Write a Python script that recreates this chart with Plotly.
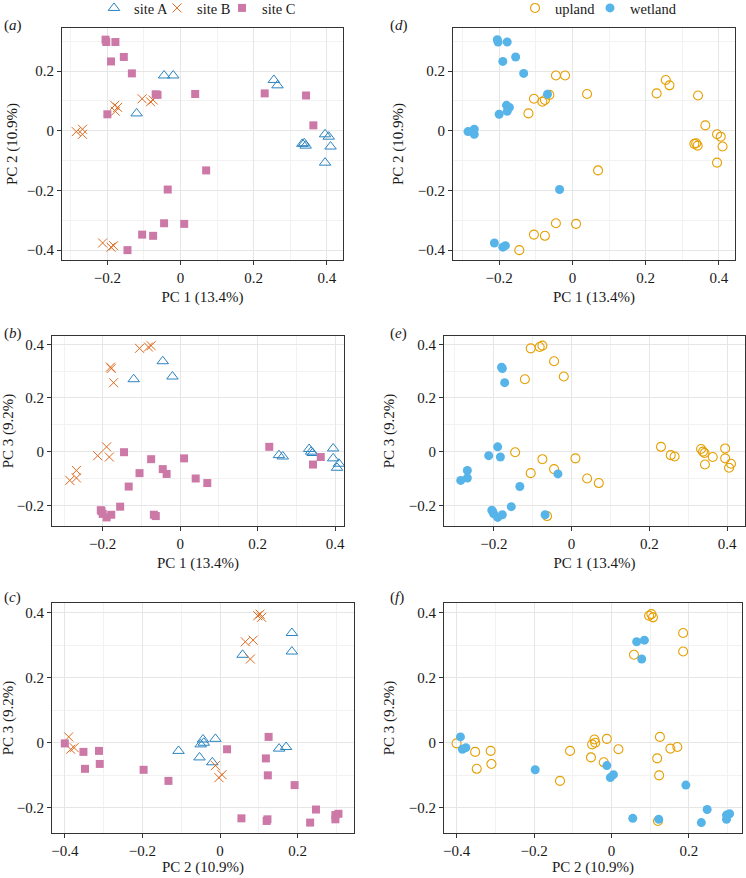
import plotly.graph_objects as go

# ---- data ----
pc1 = [-0.045, -0.020, -0.120, 0.255, 0.265, 0.333, 0.338, 0.342, 0.395, 0.405, 0.410, 0.395,
       -0.285, -0.268, -0.268, -0.180, -0.178, -0.172, -0.105, -0.082, -0.075, -0.213, -0.190, -0.183,
       -0.205, -0.203, -0.178, -0.190, -0.155, -0.133, -0.068, -0.063, 0.040, -0.200,
       0.230, 0.343, 0.363, 0.070, -0.035, -0.045, 0.010, -0.105, -0.075, -0.145]
pc2 = [0.185, 0.185, 0.058, 0.170, 0.152, -0.044, -0.042, -0.050, -0.012, -0.020, -0.053, -0.107,
       -0.003, 0.005, -0.012, 0.085, 0.065, 0.078, 0.107, 0.097, 0.103, -0.376, -0.390, -0.385,
       0.305, 0.297, 0.297, 0.232, 0.247, 0.192, 0.122, 0.120, 0.123, 0.055,
       0.125, 0.118, 0.018, -0.133, -0.197, -0.310, -0.312, -0.348, -0.352, -0.400]
pc3 = [0.337, 0.280, 0.270, -0.013, -0.018, 0.010, 0.000, -0.005, 0.012, -0.060, -0.045, -0.025,
       -0.107, -0.098, -0.070, 0.315, 0.310, 0.257, 0.385, 0.390, 0.395, -0.015, 0.018, -0.020,
       -0.218, -0.222, -0.235, -0.245, -0.205, -0.130, -0.235, -0.240, -0.100, -0.232,
       0.018, -0.048, -0.020, -0.117, -0.083, -0.065, -0.025, -0.080, -0.028, -0.002]
site = ["site A"] * 12 + ["site B"] * 12 + ["site C"] * 20
habitat = (["upland"] * 12 +
           ["wetland"] * 6 + ["upland"] * 3 + ["wetland"] * 3 +
           ["wetland"] * 7 + ["upland"] * 2 + ["wetland"] + ["upland"] * 4 + ["wetland"] + ["upland"] * 5)

site_levels = ["site A", "site B", "site C"]
hab_levels = ["upland", "wetland"]
axis_titles = {"pc1": "PC 1 (13.4%)", "pc2": "PC 2 (10.9%)", "pc3": "PC 3 (9.2%)"}

# ---- styles ----
FONT = "Liberation Serif"
W, H = 746, 878
site_style = {
    "site A": dict(symbol="triangle-up-open", color="#2b83c0", size=10, line=dict(width=1, color="#2b83c0")),
    "site B": dict(symbol="x-thin-open", color="#DD6A1F", size=9, line=dict(width=1.0, color="#DD6A1F")),
    "site C": dict(symbol="square", color="#CC79A7", size=8, line=dict(width=0)),
}
hab_style = {
    "upland": dict(symbol="circle-open", color="#E69F00", size=9, line=dict(width=1.1, color="#E69F00")),
    "wetland": dict(symbol="circle", color="#56B4E9", size=9, line=dict(width=0)),
}
# one legend box per entry: (legend id, left x in px)
legend_slots = {"site A": ("legend", 94), "site B": ("legend2", 157), "site C": ("legend3", 222),
                "upland": ("legend4", 515), "wetland": ("legend5", 590)}
cols = {"pc1": pc1, "pc2": pc2, "pc3": pc3}

# panel: label, x var, y var, colouring, pixel box (l, r, t, b), x range, y range, tag y, x standoff, y standoff
panels = [
    ("a", "pc1", "pc2", "site", (62, 343, 28, 260), (-0.324, 0.444), (-0.433, 0.344), 25, 6, 5),
    ("d", "pc1", "pc2", "habitat", (453, 735, 28, 260), (-0.326, 0.444), (-0.433, 0.344), 25, 6, 10),
    ("b", "pc1", "pc3", "site", (52, 344, 336, 526), (-0.331, 0.423), (-0.277, 0.431), 333, 6, 9),
    ("e", "pc1", "pc3", "habitat", (444, 745, 336, 526), (-0.328, 0.446), (-0.277, 0.431), 333, 6, 10),
    ("c", "pc2", "pc3", "site", (52, 354, 603, 833), (-0.433, 0.345), (-0.277, 0.429), 597, 1, 8),
    ("f", "pc2", "pc3", "habitat", (444, 742, 603, 833), (-0.4325, 0.337), (-0.277, 0.429), 597, 1, 10),
]

fig = go.Figure()
layout = dict(width=W, height=H, margin=dict(l=0, r=0, t=0, b=0, autoexpand=False),
              paper_bgcolor="white", plot_bgcolor="white",
              font=dict(family=FONT, size=15, color="#1a1a1a"))
annotations = []

for i, (lab, xv, yv, colouring, box, xr, yr, tag_y, xs_off, ys_off) in enumerate(panels, start=1):
    xs, ys = cols[xv], cols[yv]
    groups = site if colouring == "site" else habitat
    levels = site_levels if colouring == "site" else hab_levels
    styles = site_style if colouring == "site" else hab_style
    for lev in levels:
        idx = [k for k, g in enumerate(groups) if g == lev]
        fig.add_trace(go.Scatter(
            x=[xs[k] for k in idx], y=[ys[k] for k in idx], mode="markers", name=lev,
            marker=styles[lev], xaxis=f"x{i}", yaxis=f"y{i}",
            showlegend=(i in (1, 2)), legend=legend_slots[lev][0],
            cliponaxis=False))
    l, r, t, b = box
    common = dict(showline=True, mirror=True, linecolor="#333333", linewidth=1.2,
                  ticks="outside", ticklen=4, tickcolor="#333333", tickwidth=1,
                  showgrid=True, gridcolor="#e6e6e6", gridwidth=1, zeroline=False,
                  tickfont=dict(family=FONT, size=15, color="#1a1a1a"),
                  minor=dict(showgrid=True, gridcolor="#f2f2f2", gridwidth=0.7, dtick=0.1, tick0=0),
                  dtick=0.2, tick0=0, automargin=False)
    layout[f"xaxis{i}"] = dict(common, domain=[l / W, r / W], range=list(xr), anchor=f"y{i}",
                               title=dict(text=axis_titles[xv], font=dict(family=FONT, size=15), standoff=xs_off))
    layout[f"yaxis{i}"] = dict(common, domain=[1 - b / H, 1 - t / H], range=list(yr), anchor=f"x{i}",
                               title=dict(text=axis_titles[yv], font=dict(family=FONT, size=15), standoff=ys_off))
    # panel tag
    tag_x = 2 if l < 300 else 388
    annotations.append(dict(text=f"(<i>{lab}</i>)", x=tag_x / W, y=1 - tag_y / H, xref="paper", yref="paper",
                            xanchor="left", yanchor="middle", showarrow=False,
                            font=dict(family=FONT, size=15, color="#1a1a1a")))

layout["annotations"] = annotations
for lev, (lid, px) in legend_slots.items():
    layout[lid] = dict(orientation="h", x=px / W, y=1 - 8 / H, xanchor="left", yanchor="middle",
                       font=dict(family=FONT, size=14.5), bgcolor="rgba(0,0,0,0)", itemclick=False)
fig.update_layout(**layout)
fig.write_html("out.html", config={"displayModeBar": False},
               post_script="document.body.style.margin='0px';document.body.style.overflow='hidden';")
